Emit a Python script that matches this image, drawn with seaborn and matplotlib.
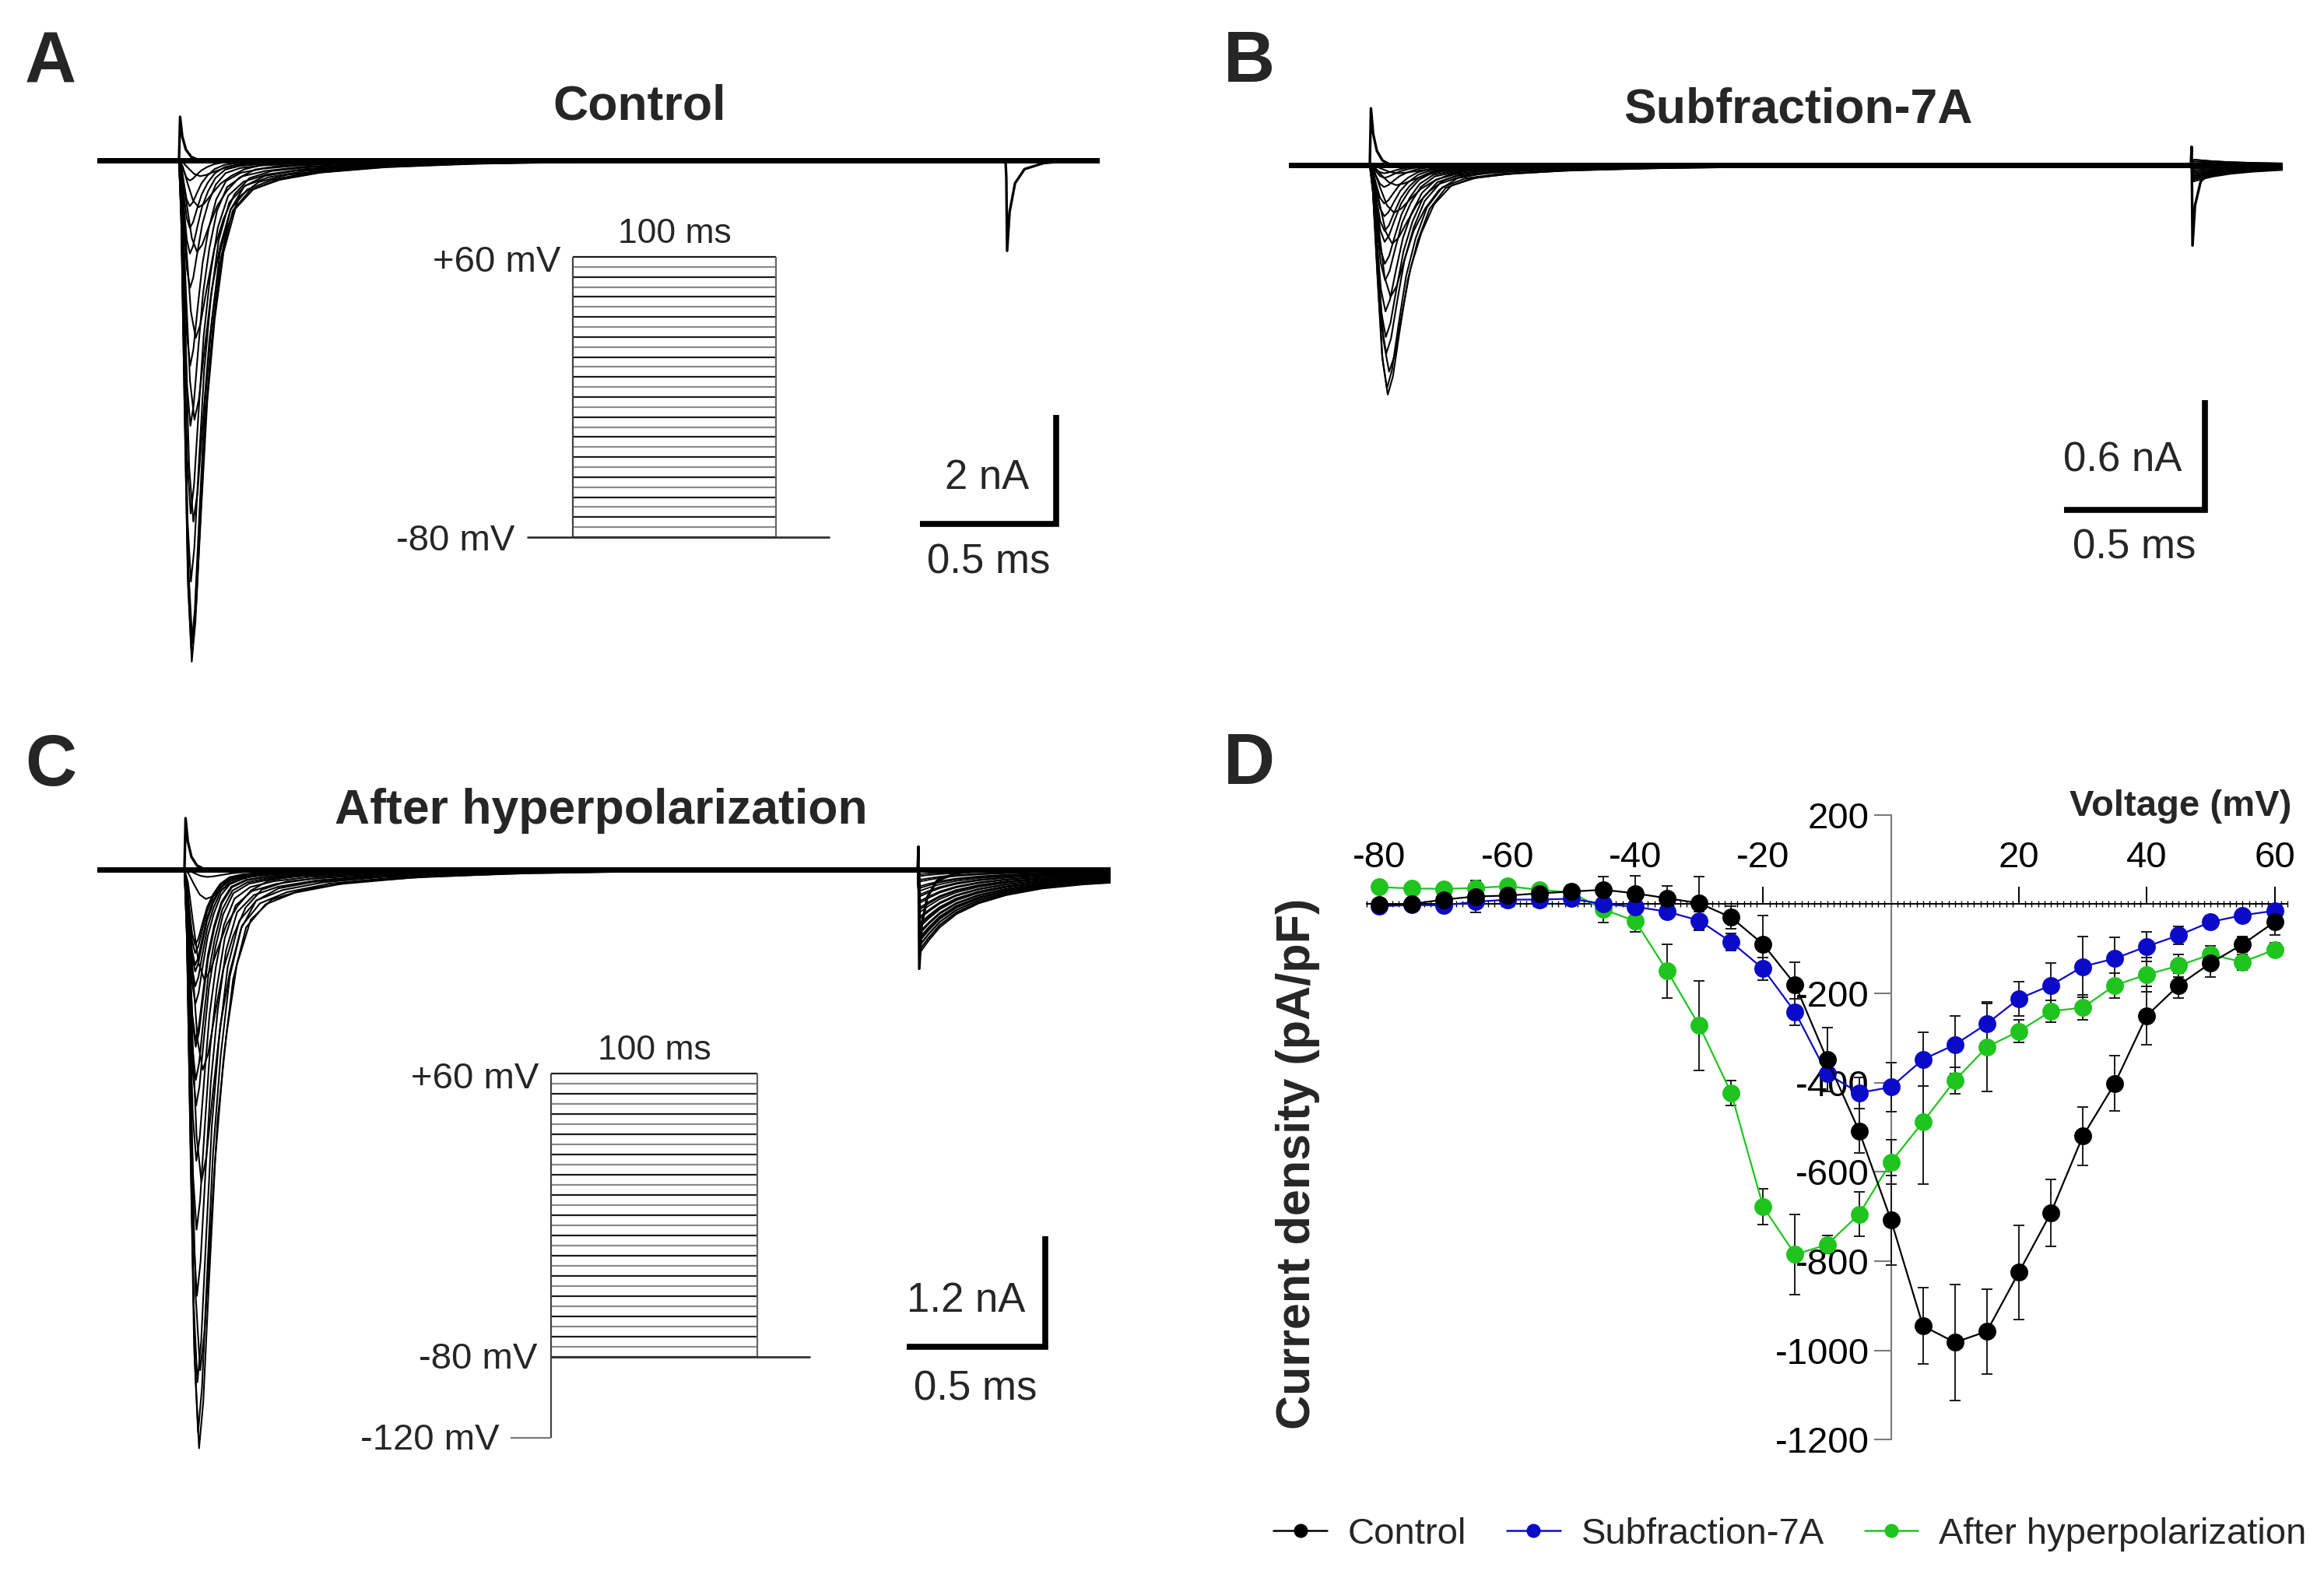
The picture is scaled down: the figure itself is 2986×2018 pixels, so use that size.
import numpy as np
import pandas as pd
import matplotlib
matplotlib.use("Agg")
import matplotlib.pyplot as plt
from matplotlib.lines import Line2D
from matplotlib.ticker import MultipleLocator
import seaborn as sns

# ---------------------------------------------------------------- data ----
voltage_mV = [-80, -75, -70, -65, -60, -55, -50, -45, -40, -35, -30, -25, -20, -15,
              -10, -5, 0, 5, 10, 15, 20, 25, 30, 35, 40, 45, 50, 55, 60]

# Panel D: current density (pA/pF), mean and SEM
control_density = [-2, 0, 10, 17, 19, 24, 28, 32, 24, 13, 2, -30, -90, -180,
                   -348, -508, -708, -945, -982, -957, -825, -692, -520, -402,
                   -250, -182, -132, -90, -40]
control_sem = [8, 6, 12, 35, 12, 12, 15, 30, 40, 28, 60, 25, 65, 50,
               72, 50, 100, 85, 130, 95, 105, 75, 65, 62, 65, 28, 32, 18, 30]
sub7a_density = [-5, -2, -3, 5, 10, 10, 12, 0, -6, -17, -37, -85, -145, -242,
                 -380, -423, -410, -348, -315, -268, -212, -182, -140, -122,
                 -95, -70, -40, -25, -15]
sub7a_sem = [5, 5, 5, 8, 8, 5, 8, 10, 20, 15, 20, 20, 25, 30,
             40, 35, 55, 60, 65, 45, 38, 50, 68, 48, 33, 20, 15, 10, 10]
hyper_density = [38, 35, 34, 36, 40, 32, 26, -12, -38, -150, -272, -423, -678, -785,
                 -763, -695, -578, -488, -395, -320, -285, -240, -232, -182,
                 -158, -138, -113, -130, -102]
hyper_sem = [8, 6, 8, 10, 8, 6, 8, 30, 25, 60, 100, 28, 40, 90,
             20, 50, 50, 140, 30, 100, 25, 25, 28, 28, 38, 25, 20, 18, 15]

# Panels A-C: peak inward current of each trace (nA), one per voltage step
peak_A_nA = [0, 0, 0, 0, 0, 0, 0, 0, 0, 0, -0.02, -0.29, -0.86, -1.68,
             -3.26, -4.76, -6.63, -8.86, -9.2, -8.96, -7.73, -6.48, -4.87, -3.77,
             -2.34, -1.71, -1.24, -0.84, -0.37]
peak_B_nA = [0, 0, 0, 0, 0, 0, 0, 0, 0, -0.045, -0.11, -0.26, -0.43, -0.72,
             -1.13, -1.255, -1.22, -1.03, -0.94, -0.8, -0.63, -0.54, -0.42, -0.36,
             -0.28, -0.21, -0.12, -0.07, -0.045]
peak_C_nA = [0, 0, 0, 0, 0, 0, 0, -0.08, -0.32, -1.2, -2.18, -3.4, -5.45, -6.3,
             -6.13, -5.58, -4.64, -3.92, -3.17, -2.57, -2.29, -1.93, -1.86, -1.46,
             -1.27, -1.11, -0.91, -1.04, -0.82]
# tail currents after the step (nA)
tail_B_nA = [0.03, 0.02, 0.03, 0.01, 0.02, 0.0, 0.01, -0.01, 0.0, -0.02, -0.01, -0.03,
             -0.02, -0.04, -0.03, -0.05, -0.04, -0.05, -0.06, -0.05, -0.06, -0.07,
             -0.06, -0.07, -0.08, -0.07, -0.08, -0.09, -0.08]
tail_C_nA = [-0.05, -0.07, -0.11, -0.13, -0.18, -0.2, -0.23, -0.27, -0.29, -0.34,
             -0.36, -0.41, -0.43, -0.46, -0.51, -0.53, -0.58, -0.6, -0.62, -0.67,
             -0.69, -0.73, -0.75, -0.77, -0.81, -0.82, -0.86, -0.87, -0.9]
# kinetic time-stretch of each trace
kin_stretch = [2.0, 2.0, 2.0, 2.0, 2.0, 2.0, 2.0, 2.0, 1.95, 1.9, 1.82, 1.72, 1.6, 1.47,
               1.36, 1.26, 1.17, 1.09, 1.04, 1.0, 0.97, 0.95, 0.93, 0.91, 0.9, 0.89,
               0.88, 0.87, 0.86]

# waveform templates
na_time_ms = [0.000, 0.008, 0.020, 0.032, 0.045, 0.058, 0.075, 0.095, 0.120, 0.150,
              0.190, 0.250, 0.340, 0.480, 0.700, 1.000, 1.400, 2.000]
na_shape = [0.0, 0.12, 0.50, 0.85, 1.00, 0.92, 0.72, 0.50, 0.33, 0.19,
            0.10, 0.06, 0.04, 0.025, 0.014, 0.007, 0.003, 0.0]
cap_time_ms = [0.0, 0.004, 0.012, 0.025, 0.045, 0.075]
cap_shape = [0.0, 1.0, 0.55, 0.25, 0.08, 0.0]
tailspike_time_ms = [0.0, 0.003, 0.006, 0.015, 0.035, 0.07, 0.14, 0.25]
tailspike_A_nA = [0, -0.3, -1.66, -0.95, -0.42, -0.16, -0.05, 0]
tailspike_B_nA = [0, 0.1, -0.44, -0.22, -0.09, -0.035, -0.01, 0]
tailspike_C_nA = [0, 0.25, -1.08, -0.6, -0.3, -0.12, -0.04, 0]
tail_time_ms = [0.0, 0.01, 0.04, 0.08, 0.14, 0.22, 0.32, 0.45, 0.60, 0.75]
tail_shape = [0.0, 1.0, 0.86, 0.70, 0.54, 0.41, 0.31, 0.23, 0.18, 0.15]

# voltage protocol
step_ms = 100
holding_mV = -80
prepulse_mV = -120

cond_names = ["Control", "Subfraction-7A", "After hyperpolarization"]
cond_colors = ["#000000", "#0a0ac8", "#1fc41f"]

# -------------------------------------------------------------- figure ----
W, H, DPI = 2986, 2018, 100
sns.set_theme(style="white")
plt.rcParams["font.family"] = ["Liberation Sans", "DejaVu Sans"]
plt.rcParams["axes.unicode_minus"] = False

fig = plt.figure(figsize=(W / DPI, H / DPI), dpi=DPI)
fig.patch.set_facecolor("white")


def px_axes(l, t, r, b):
    return fig.add_axes([l / W, 1 - b / H, (r - l) / W, (b - t) / H])


def set_px_limits(ax, l, t, r, b, x0, y0, sx, sy):
    ax.set_xlim((l - x0) / sx, (r - x0) / sx)
    ax.set_ylim((y0 - b) / sy, (y0 - t) / sy)
    ax.axis("off")


def family_frame(peaks, offset, factor, t_cut):
    rows = []
    for k, pk in enumerate(peaks):
        if pk == 0:
            continue
        s = kin_stretch[min(k + offset, len(kin_stretch) - 1)] * factor
        for tt, sh in zip(na_time_ms, na_shape):
            if tt * s <= t_cut:
                rows.append((k, tt * s, pk * sh))
    return pd.DataFrame(rows, columns=["trace", "t", "I"])


def tail_frame(amps, t_tail):
    rows = []
    for k, a in enumerate(amps):
        for tt, sh in zip(tail_time_ms, tail_shape):
            rows.append((k, t_tail + tt, a * sh))
    return pd.DataFrame(rows, columns=["trace", "t", "I"])


def trace_panel(box, x0, y0, sx, sy, peaks, offset, factor, t_start, t_tail, t_end,
                cap_h, tailspike, tail_amps, bar_nA, bar_corner, bar_txt, txt_off):
    l, t, r, b = box
    ax = px_axes(l, t, r, b)
    base = pd.DataFrame({"t": [t_start, t_end], "I": [0.0, 0.0]})
    sns.lineplot(data=base, x="t", y="I", color="black", linewidth=5.0, ax=ax,
                 legend=False)
    fam = family_frame(peaks, offset, factor, t_tail)
    sns.lineplot(data=fam, x="t", y="I", units="trace", estimator=None, sort=False,
                 color="black", linewidth=1.5, ax=ax, legend=False)
    cap = pd.DataFrame({"t": cap_time_ms, "I": [cap_h * c for c in cap_shape]})
    sns.lineplot(data=cap, x="t", y="I", sort=False, color="black", linewidth=2.4,
                 ax=ax, legend=False)
    if tail_amps is not None:
        tf = tail_frame(tail_amps, t_tail)
        sns.lineplot(data=tf, x="t", y="I", units="trace", estimator=None, sort=False,
                     color="black", linewidth=1.3, ax=ax, legend=False)
    ts = pd.DataFrame({"t": [t_tail + x for x in tailspike_time_ms], "I": tailspike})
    sns.lineplot(data=ts, x="t", y="I", sort=False, color="black", linewidth=2.4,
                 ax=ax, legend=False)
    # scale bar
    ct, ci = bar_corner
    ax.plot([ct - 0.5, ct, ct], [ci, ci, ci + bar_nA], color="black", lw=5.5,
            solid_joinstyle="miter", solid_capstyle="butt", clip_on=False)
    ax.annotate(bar_txt, xy=(ct, ci), xytext=txt_off[0], textcoords="offset pixels",
                ha="center", va="baseline", fontsize=38)
    ax.annotate("0.5 ms", xy=(ct, ci), xytext=txt_off[1], textcoords="offset pixels",
                ha="center", va="baseline", fontsize=38)
    set_px_limits(ax, l, t, r, b, x0, y0, sx, sy)
    return ax


def protocol(box, x0, y0, sx, sy, pre_ms, post_ms, with_prepulse):
    l, t, r, b = box
    ax = px_axes(l, t, r, b)
    cols = ["#1c1c1c" if k % 2 == 0 else "#8a8a8a" for k in range(len(voltage_mV))]
    ax.hlines(voltage_mV, 0, step_ms, colors=cols, lw=1.6)
    top = max(voltage_mV)
    low = prepulse_mV if with_prepulse else holding_mV
    ax.vlines([0], low, top, colors="#444444", lw=1.6)
    ax.vlines([step_ms], holding_mV, top, colors="#666666", lw=1.6)
    if with_prepulse:
        ax.hlines([prepulse_mV], -pre_ms, 0, colors="#777777", lw=1.6)
    else:
        ax.hlines([holding_mV], -pre_ms, 0, colors="#222222", lw=1.8)
    ax.hlines([holding_mV], 0, step_ms + post_ms, colors="#333333", lw=2.0)
    ax.annotate("100 ms", xy=(step_ms / 2, top), xytext=(0, 18),
                textcoords="offset pixels", ha="center", va="baseline", fontsize=32)
    ax.annotate("+60 mV", xy=(0, top), xytext=(-16, -2), textcoords="offset pixels",
                ha="right", va="center_baseline", fontsize=34)
    if with_prepulse:
        ax.annotate("-80 mV", xy=(0, holding_mV), xytext=(-18, 2),
                    textcoords="offset pixels", ha="right", va="center_baseline",
                    fontsize=34)
        ax.annotate("-120 mV", xy=(-pre_ms, prepulse_mV), xytext=(-14, 2),
                    textcoords="offset pixels", ha="right", va="center_baseline",
                    fontsize=34)
    else:
        ax.annotate("-80 mV", xy=(-pre_ms, holding_mV), xytext=(-16, 0),
                    textcoords="offset pixels", ha="right", va="center_baseline",
                    fontsize=34)
    set_px_limits(ax, l, t, r, b, x0, y0, sx, sy)
    return ax


# ---- Panel A
trace_panel(box=(125, 100, 1413, 900), x0=230, y0=206, sx=350, sy=70,
            peaks=peak_A_nA, offset=0, factor=1.0, t_start=-0.30, t_tail=3.034,
            t_end=3.38, cap_h=0.8, tailspike=tailspike_A_nA, tail_amps=None,
            bar_nA=2.0, bar_corner=(3.22, -6.67), bar_txt="2 nA",
            txt_off=[(-89, 45), (-87, -64)])
protocol(box=(560, 260, 1120, 740), x0=736, y0=690 - 80 * 2.571, sx=2.61, sy=2.571,
         pre_ms=22.6, post_ms=26.4, with_prepulse=False)

# ---- Panel B
trace_panel(box=(1656, 100, 2933, 780), x0=1760, y0=212, sx=362, sy=235,
            peaks=peak_B_nA, offset=2, factor=1.3, t_start=-0.29, t_tail=2.914,
            t_end=3.24, cap_h=0.31, tailspike=tailspike_B_nA, tail_amps=tail_B_nA,
            bar_nA=0.6, bar_corner=(2.964, -1.885), bar_txt="0.6 nA",
            txt_off=[(-106, 49), (-91, -63)])

# ---- Panel C
trace_panel(box=(125, 1000, 1427, 1900), x0=237, y0=1117, sx=356, sy=118,
            peaks=peak_C_nA, offset=3, factor=1.0, t_start=-0.315, t_tail=2.646,
            t_end=3.343, cap_h=0.56, tailspike=tailspike_C_nA, tail_amps=tail_C_nA,
            bar_nA=1.2, bar_corner=(3.107, -5.195), bar_txt="1.2 nA",
            txt_off=[(-102, 45), (-90, -68)])
protocol(box=(520, 1300, 1100, 1900), x0=708, y0=1743 - 80 * 2.6, sx=2.65, sy=2.6,
         pre_ms=19.6, post_ms=25.7, with_prepulse=True)

# ---- Panel D
axD = px_axes(1756, 1038, 2939, 1858)
dfD = pd.DataFrame({
    "Voltage": voltage_mV * 3,
    "Density": control_density + sub7a_density + hyper_density,
    "Condition": [cond_names[0]] * len(voltage_mV) + [cond_names[1]] * len(voltage_mV)
                 + [cond_names[2]] * len(voltage_mV),
})
palette = dict(zip(cond_names, cond_colors))
for m, e in [(hyper_density, hyper_sem), (sub7a_density, sub7a_sem),
             (control_density, control_sem)]:
    axD.errorbar(voltage_mV, m, yerr=e, fmt="none", ecolor="#1a1a1a", elinewidth=1.4,
                 capsize=5, capthick=1.4, zorder=3)
sns.lineplot(data=dfD, x="Voltage", y="Density", hue="Condition",
             hue_order=cond_names[::-1], palette=palette, marker="o", markersize=16.5,
             markeredgewidth=0, linewidth=1.6, sort=False, legend=False, ax=axD,
             zorder=4)
axD.set_xlim(-82, 62)
axD.set_ylim(-1215, 215)
axD.set_facecolor("none")
axD.grid(False)
axD.set_xlabel("")
axD.set_ylabel("")
axD.spines["right"].set_visible(False)
axD.spines["bottom"].set_visible(False)
axD.spines["left"].set_position(("data", 0))
axD.spines["left"].set_bounds(-1200, 200)
axD.spines["left"].set_color("#7a7a7a")
axD.spines["left"].set_linewidth(1.5)
axD.spines["top"].set_position(("data", 0))
axD.spines["top"].set_color("black")
axD.spines["top"].set_linewidth(1.4)
axD.xaxis.set_ticks_position("top")
axD.set_xticks([-80, -60, -40, -20, 20, 40, 60])
axD.xaxis.set_minor_locator(MultipleLocator(1))
axD.tick_params(axis="x", which="major", direction="out", length=16, width=1.4,
                color="black", pad=11, labelsize=34, top=True, bottom=False,
                labeltop=True, labelbottom=False, labelcolor="black")
axD.tick_params(axis="x", which="minor", direction="inout", length=6, width=1.0,
                color="black", top=True, bottom=False)
axD.set_yticks([200, -200, -400, -600, -800, -1000, -1200])
axD.tick_params(axis="y", which="major", direction="out", length=16, width=1.5,
                color="#7a7a7a", pad=4, labelsize=34, left=True, right=False,
                labelcolor="black")

fig.text(1668 / W, 1 - 1495 / H, "Current density (pA/pF)", rotation=90,
         fontsize=44, fontweight="bold", ha="center", va="center")
fig.text(2802 / W, 1 - 1036 / H, "Voltage (mV)", fontsize=34, fontweight="bold",
         ha="center", va="center")

handles = [Line2D([0], [0], color=c, lw=1.8, marker="o", markersize=13,
                  markeredgewidth=0) for c in cond_colors]
fig.legend(handles, cond_names, loc="center", bbox_to_anchor=(2300 / W, 1 - 1971 / H),
           ncol=3, frameon=False, fontsize=34, handlelength=1.45, handletextpad=0.57,
           columnspacing=1.1, borderpad=0.1)

# ---- titles and panel letters
for txt, x, y in [("A", 65, 105), ("B", 1605, 105), ("C", 65, 1009), ("D", 1605, 1007)]:
    fig.text(x / W, 1 - y / H, txt, fontsize=66, fontweight="bold", ha="center",
             va="baseline")
for txt, x, y in [("Control", 822, 153), ("Subfraction-7A", 2310, 158),
                  ("After hyperpolarization", 772, 1058)]:
    fig.text(x / W, 1 - y / H, txt, fontsize=45, fontweight="bold", ha="center",
             va="baseline")

fig.savefig("out.png", dpi=DPI, facecolor="white")
